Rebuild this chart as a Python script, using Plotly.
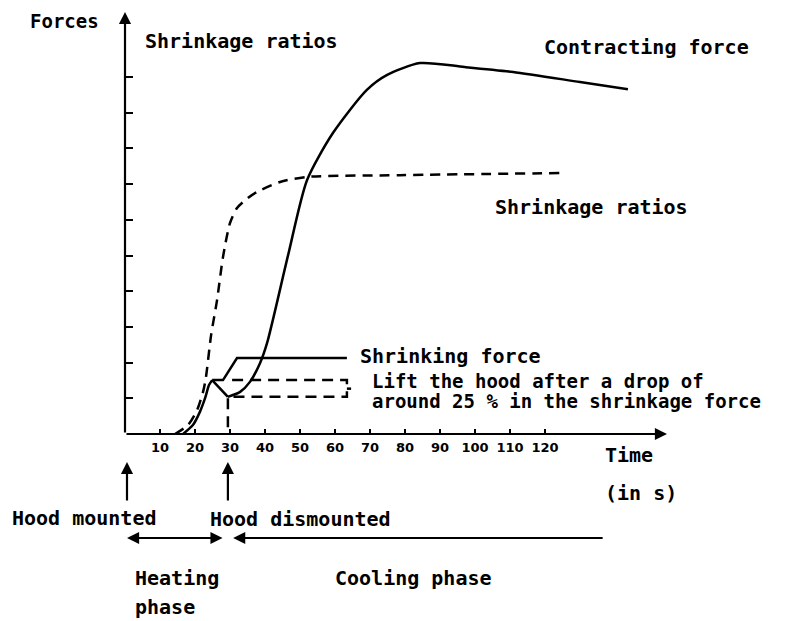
import plotly.graph_objects as go

# ---------------- data (time in s, force/ratio in arbitrary tick units) ----------------
time_ticks = [10, 20, 30, 40, 50, 60, 70, 80, 90, 100, 110, 120]
time_labels = [str(v) for v in time_ticks]
level_ticks = [1, 2, 3, 4, 5, 6, 7, 8, 9, 10]

ratio_t = [14.3, 18.0, 20.6, 22.3, 23.1, 24.6, 26.3, 28.0, 30.0, 32.0, 35.1, 37.7, 44.3, 52.0, 78.6, 124.9]
ratio_v = [0.0, 0.25, 0.67, 1.18, 1.57, 2.77, 3.75, 4.96, 5.91, 6.33, 6.61, 6.78, 7.06, 7.20, 7.25, 7.31]

contract_t = [16.6, 19.4, 21.4, 22.9, 24.0, 24.9, 29.4, 32.9, 35.7, 38.6, 40.6, 46.6, 52.0, 59.4, 69.1, 74.9, 84.3, 97.0, 110.9, 130.0, 143.7]
contract_v = [0.0, 0.25, 0.62, 1.01, 1.37, 1.51, 1.04, 1.18, 1.46, 1.99, 2.55, 5.01, 7.11, 8.43, 9.64, 10.06, 10.39, 10.28, 10.14, 9.86, 9.66]
PEAK_IDX, DIP_IDX = 5, 6

shrink_t = [24.9, 28.0, 32.0, 63.4]
shrink_v = [1.51, 1.51, 2.13, 2.13]

lift_t = [30.6, 63.4, 63.4, 29.4, 29.4]
lift_v = [1.51, 1.51, 1.04, 1.04, 0.0]
nub_t = [63.4, 64.6]
nub_v = [1.27, 1.27]

hood_mounted_t = 0.0
hood_dismounted_t = 29.4
heating_end_t = 28.3
cooling_start_t = 30.9
cooling_end_t = 136.9

# ---------------- geometry (reference page pixels) ----------------
OFF = 8                      # default page margin around the figure
PAGE_W, PAGE_H = 787, 621
RX0, RX1 = 125, 667          # x-axis start / arrow tip
RY0, RY1 = 434, 12           # x-axis level / y-axis arrow tip
W, H = PAGE_W - OFF, PAGE_H - OFF
PX_S = 3.5
PX_L = 35.7
x_range = [0, (RX1 - RX0) / PX_S]
y_range = [0, (RY0 - RY1) / PX_L]

def px(xp):
    return (xp - RX0) / (RX1 - RX0)

def py(yp):
    return (RY0 - yp) / (RY0 - RY1)

def tpaper(t):
    return t / x_range[1]

FONT = "DejaVu Sans Mono"
LW = 2.5

fig = go.Figure()

def add_line(xs, ys, dash=None, shape="spline", smoothing=0.8):
    fig.add_trace(go.Scatter(
        x=xs, y=ys, mode="lines", cliponaxis=False, showlegend=False, hoverinfo="skip",
        line=dict(color="black", width=LW, dash=dash, shape=shape,
                  smoothing=smoothing if shape == "spline" else None)))

# shrinkage ratio (dashed)
add_line(ratio_t, ratio_v, dash="10px,7px", smoothing=0.7)
# contracting force: rise, drop, main rise
add_line(contract_t[:PEAK_IDX + 1], contract_v[:PEAK_IDX + 1], smoothing=0.6)
add_line(contract_t[PEAK_IDX:DIP_IDX + 1], contract_v[PEAK_IDX:DIP_IDX + 1], shape="linear")
add_line(contract_t[DIP_IDX:], contract_v[DIP_IDX:], smoothing=0.7)
# shrinking force
add_line(shrink_t, shrink_v, shape="linear")
# lift markers (dashed)
add_line(lift_t, lift_v, dash="11px,7px", shape="linear")
add_line(nub_t, nub_v, shape="linear")

ann = []

def text(s, xp, yp, size=20, bold=True):
    ann.append(dict(text=s, x=px(xp), y=py(yp), xref="paper", yref="paper",
                    xanchor="left", yanchor="middle", showarrow=False,
                    font=dict(family=FONT, size=size, color="black",
                              weight="bold" if bold else "normal")))

def arrow(x_tip, y_tip, dx, dy, both=False, head=2, width=2.2):
    ann.append(dict(text="", x=x_tip, y=y_tip, xref="paper", yref="paper",
                    ax=dx, ay=dy, axref="pixel", ayref="pixel",
                    showarrow=True, arrowhead=head, arrowsize=1.1, arrowwidth=width,
                    arrowcolor="black", arrowside="end+start" if both else "end",
                    startarrowhead=head, startarrowsize=1.1))

# axes with arrow heads
arrow(0, 1, 0, RY0 - RY1)
arrow(1, 0, -(RX1 - RX0), 0)

text("Forces", 28, 21, size=19)
text("Shrinkage ratios", 143, 41)
text("Contracting force", 542, 47)
text("Shrinkage ratios", 493, 207)
text("Shrinking force", 358, 356)
text("Lift the hood after a drop of", 370, 381, size=19)
text("around 25 % in the shrinkage force", 370, 401, size=19)
text("Time", 603, 455)
text("(in s)", 603, 493)
text("Hood mounted", 10, 518)
text("Hood dismounted", 208, 519)
text("Heating", 133, 578)
text("phase", 133, 607)
text("Cooling phase", 333, 578)

# hood event arrows (pointing up to the axis)
arrow(px(127), py(462), 0, 40)
arrow(tpaper(hood_dismounted_t), py(462), 0, 40)
# phase arrows
y_phase = py(538)
arrow(px(127), y_phase, (heating_end_t - hood_mounted_t) * PX_S - 2, 0, both=True)
arrow(tpaper(cooling_start_t), y_phase, (cooling_end_t - cooling_start_t) * PX_S, 0)

fig.update_layout(
    width=W, height=H, autosize=False,
    margin=dict(l=RX0 - OFF, r=PAGE_W - RX1, t=RY1 - OFF, b=PAGE_H - RY0, pad=0),
    paper_bgcolor="white", plot_bgcolor="rgba(0,0,0,0)",
    annotations=ann,
    xaxis=dict(range=x_range, showgrid=False, zeroline=False, showline=False,
               ticks="inside", ticklen=5, tickwidth=2, tickcolor="black",
               tickvals=time_ticks, ticktext=time_labels, ticklabelstandoff=4,
               tickfont=dict(family="DejaVu Sans", size=13, color="black", weight="bold"),
               fixedrange=True),
    yaxis=dict(range=y_range, showgrid=False, zeroline=False, showline=False,
               ticks="inside", ticklen=8, tickwidth=2, tickcolor="black",
               tickvals=level_ticks, showticklabels=False, fixedrange=True),
)

fig.write_html("out.html")
